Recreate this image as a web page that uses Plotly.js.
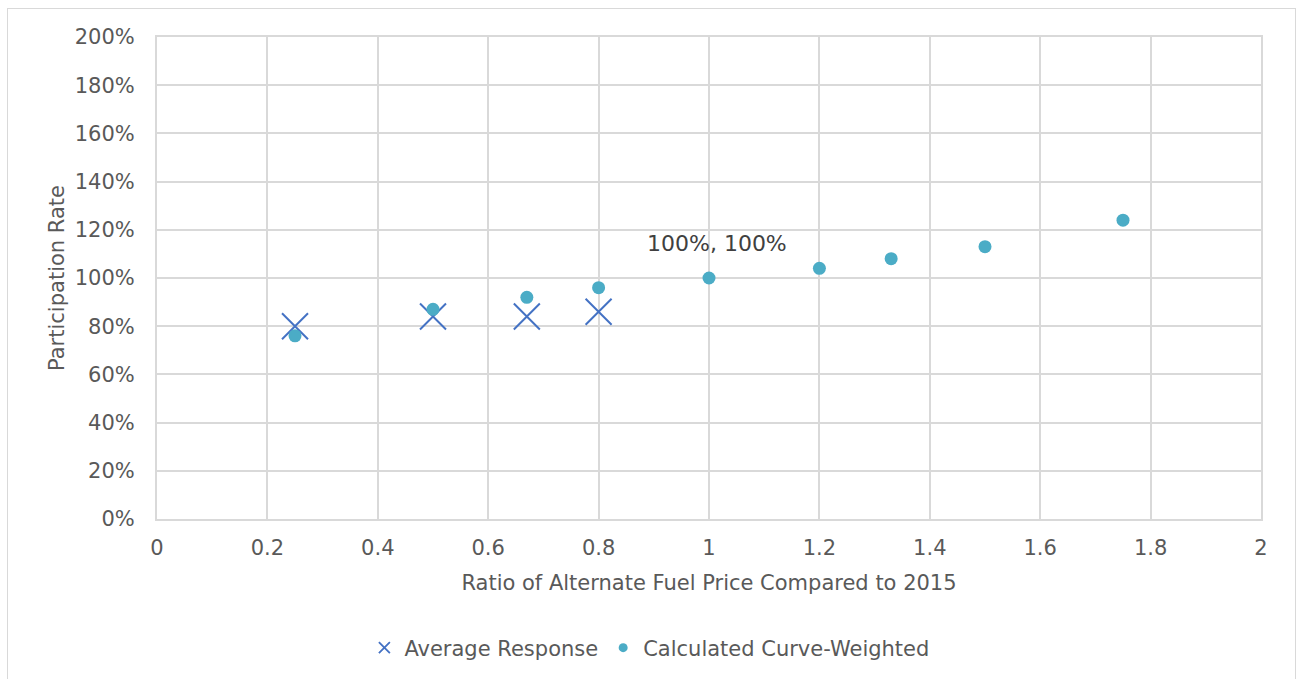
<!DOCTYPE html>
<html><head><meta charset="utf-8">
<script src="https://cdn.plot.ly/plotly-3.0.1.min.js"></script>
<style>
html,body{margin:0;padding:0;background:#fff;}
#wrap{position:relative;width:1298px;height:679px;}
#chart{width:1298px;height:679px;}
#frame{position:absolute;left:7px;top:8px;width:1289px;height:680px;border:1px solid #d9d9d9;pointer-events:none;box-sizing:border-box;}
</style></head>
<body>
<div id="wrap"><div id="chart"></div><div id="frame"></div></div>
<script>
const avgX = [0.25, 0.5, 0.67, 0.8];
const avgY = [0.80, 0.84, 0.84, 0.86];
const calcX = [0.25, 0.5, 0.67, 0.8, 1.0, 1.2, 1.33, 1.5, 1.75];
const calcY = [0.76, 0.87, 0.92, 0.96, 1.00, 1.04, 1.08, 1.13, 1.24];
const labelX = 1.0, labelY = 1.0, labelText = "100%, 100%";
const xTicks = [0, 0.2, 0.4, 0.6, 0.8, 1, 1.2, 1.4, 1.6, 1.8, 2];
const yTicks = [0, 0.2, 0.4, 0.6, 0.8, 1.0, 1.2, 1.4, 1.6, 1.8, 2.0];

const FONT = "'DejaVu Sans', sans-serif";
const crossColor = "#4472C4", dotColor = "#4BACC6";

const traces = [
  {x: avgX, y: avgY, mode: "markers", type: "scatter", name: "Average Response", showlegend: false,
   marker: {symbol: "x-thin-open", size: 26, color: crossColor, line: {color: crossColor, width: 2}}},
  {x: calcX, y: calcY, mode: "markers", type: "scatter", name: "Calculated Curve-Weighted", showlegend: false,
   marker: {symbol: "circle", size: 13, color: dotColor}},
  {x: [null], y: [null], mode: "markers", type: "scatter", name: "Average Response",
   marker: {symbol: "x-thin-open", size: 11, color: crossColor, line: {color: crossColor, width: 1.8}}},
  {x: [null], y: [null], mode: "markers", type: "scatter", name: "Calculated Curve-Weighted",
   marker: {symbol: "circle", size: 9, color: dotColor}}
];

const layout = {
  width: 1298, height: 679,
  margin: {l: 157, r: 37, t: 37, b: 159},
  paper_bgcolor: "#fff", plot_bgcolor: "#fff",
  font: {family: FONT, size: 21, color: "#595959"},
  xaxis: {range: [0, 2], tickvals: xTicks, ticktext: xTicks.map(String), showgrid: true, gridcolor: "#d9d9d9", gridwidth: 2,
    zeroline: false, showline: true, linecolor: "#d9d9d9", linewidth: 2, mirror: true, ticks: "", ticklabelstandoff: 9,
    tickfont: {size: 21, color: "#595959"},
    title: {text: "Ratio of Alternate Fuel Price Compared to 2015", font: {size: 21, color: "#595959"}, standoff: 16}},
  yaxis: {range: [0, 2], tickvals: yTicks, tickformat: ".0%", showgrid: true, gridcolor: "#d9d9d9", gridwidth: 2,
    zeroline: false, showline: true, linecolor: "#d9d9d9", linewidth: 2, mirror: true, ticks: "", ticklabelstandoff: 16,
    tickfont: {size: 21, color: "#595959"},
    title: {text: "Participation Rate", font: {size: 21, color: "#595959"}, standoff: 4}},
  legend: {orientation: "h", x: 0.446, xanchor: "center", y: -0.265, yanchor: "middle", font: {size: 21, color: "#595959"},
    itemwidth: 30, tracegroupgap: 0},
  annotations: [{x: labelX, y: labelY, text: labelText, showarrow: false, xshift: 8, yshift: 35,
    font: {family: FONT, size: 22, color: "#404040"}}],
  showlegend: true
};

Plotly.newPlot("chart", traces, layout, {displayModeBar: false, staticPlot: true});
</script>
</body></html>
